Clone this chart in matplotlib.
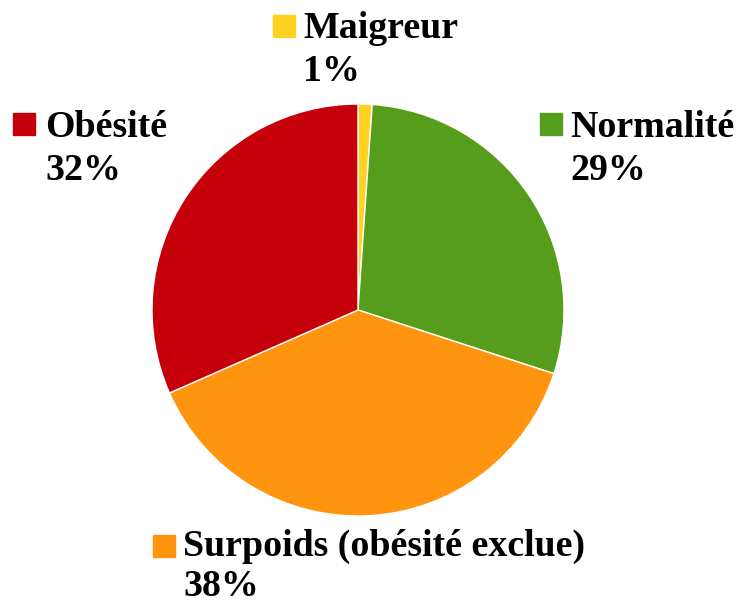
import matplotlib
matplotlib.use("Agg")
import matplotlib.pyplot as plt

# data
categories = ["Maigreur", "Normalité", "Surpoids (obésité exclue)", "Obésité"]
values = [1.1, 28.9, 38.4, 31.6]
colors = ["#ffd320", "#579d1c", "#ff950e", "#c5000b"]

W, H = 738, 606
CX, CY, R = 358, 310, 206


def px(x, y):
    # pixel (from top-left) -> data coords where the pie has radius 1
    return (x - CX) / R, (CY - y) / R


fig = plt.figure(figsize=(W / 100, H / 100), dpi=100)
ax = fig.add_axes([0, 0, 1, 1])
ax.pie(values, colors=colors, startangle=90, counterclock=False, radius=1,
       wedgeprops=dict(edgecolor="white", linewidth=1.0))
ax.set_xlim(-CX / R, (W - CX) / R)
ax.set_ylim((CY - H) / R, CY / R)
ax.set_aspect("equal")
ax.axis("off")

# label anchors: square left/top, text left, first baseline, line gap
label_pos = [(273, 15, 303, 38, 43), (540, 113, 570, 137, 43),
             (153, 535, 183, 556, 40), (13, 113, 45, 137, 43)]
font = dict(family="Liberation Serif", weight="bold", size=27.3, color="black")
sq = 22 / R
total = sum(values)
for name, val, col, (sx, sy, tx, ty, gap) in zip(categories, values, colors, label_pos):
    x0, y0 = px(sx, sy)
    ax.add_patch(plt.Rectangle((x0, y0 - sq), sq, sq, color=col, clip_on=False))
    ax.text(*px(tx, ty), name, ha="left", va="baseline", **font)
    ax.text(*px(tx, ty + gap), f"{round(100 * val / total)}%", ha="left", va="baseline", **font)

fig.savefig("out.png", dpi=100)
